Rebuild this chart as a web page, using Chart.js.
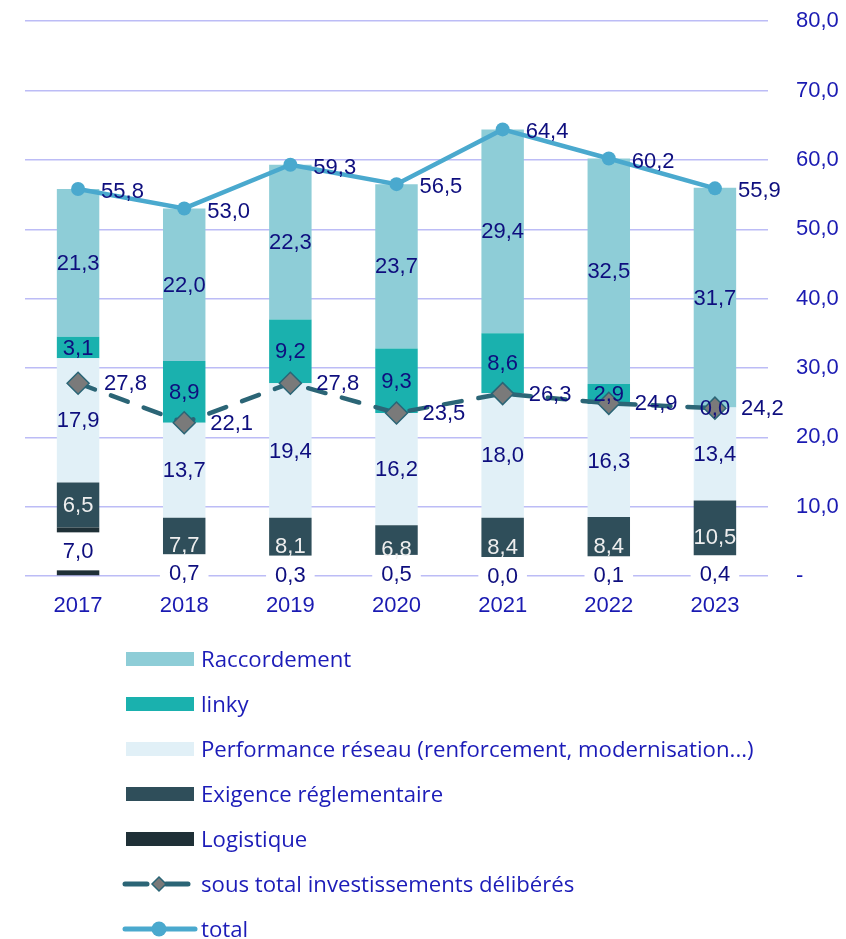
<!DOCTYPE html>
<html><head><meta charset="utf-8">
<script src="https://cdn.jsdelivr.net/npm/chart.js@4.4.1/dist/chart.umd.min.js"></script>
<style>
html,body{margin:0;padding:0;background:#fff;width:846px;height:939px;overflow:hidden;position:relative;}
#wrap{position:absolute;left:0;top:-20px;width:846px;height:660px;}
#legend{position:absolute;left:0;top:0;width:846px;height:939px;pointer-events:none;font-family:"Open Sans",sans-serif;font-size:22.2px;color:#1c1cb8;}
.item{position:absolute;left:0;height:30px;line-height:30px;white-space:nowrap;}
.item svg{position:absolute;left:118px;top:0;}
.item span{position:absolute;left:201px;top:0px;}
</style></head><body>
<div id="wrap"><canvas id="c" width="846" height="660"></canvas></div>
<div id="legend"></div>
<script>
const years = ['2017','2018','2019','2020','2021','2022','2023'];
const raccordement = [21.3, 22.0, 22.3, 23.7, 29.4, 32.5, 31.7];
const linky        = [3.1, 8.9, 9.2, 9.3, 8.6, 2.9, 0.0];
const performance  = [17.9, 13.7, 19.4, 16.2, 18.0, 16.3, 13.4];
const exigence     = [6.5, 7.7, 8.1, 6.8, 8.4, 8.4, 10.5];
const logistique   = [7.0, 0.7, 0.3, 0.5, 0.0, 0.1, 0.4];
const sousTotal    = [27.8, 22.1, 27.8, 23.5, 26.3, 24.9, 24.2];
const total        = [55.8, 53.0, 59.3, 56.5, 64.4, 60.2, 55.9];
const seriesNames = ['Raccordement','linky','Performance réseau (renforcement, modernisation...)','Exigence réglementaire','Logistique','sous total investissements délibérés','total'];

const TICK = '#1a1ab2';
const LBL = '#0e0e7e';
const FONT = '"Liberation Sans", Arial, sans-serif';
const FS = 22;
const fmt = v => v.toFixed(1).replace('.', ',');

const C = {
  racc:'#8ecdd7', linky:'#1ab1ae', perf:'#e1f0f7', exig:'#2f4e5a', logi:'#1f3037',
  sous:'#2b6576', diamond:'#7a7a7a', total:'#4aa9ce'
};

// label settings per dataset index
const lblCfg = [
  {type:'line', dx:23, dy:3},
  {type:'line', dx:26, dy:1},
  {type:'bar', color:LBL, bg:true},
  {type:'bar', color:'#eeeeee'},
  {type:'bar', color:LBL},
  {type:'bar', color:LBL},
  {type:'bar', color:LBL}
];

const labelPlugin = {
  id:'vlabels',
  afterDatasetsDraw(chart){
    const ctx = chart.ctx;
    ctx.save();
    ctx.font = FS + 'px ' + FONT;
    ctx.textBaseline = 'middle';
    chart.data.datasets.forEach((ds,i)=>{
      const meta = chart.getDatasetMeta(i);
      const cfg = lblCfg[i];
      meta.data.forEach((el,j)=>{
        const txt = fmt(ds.data[j]);
        if(cfg.type==='line'){
          ctx.textAlign='left';
          ctx.fillStyle=LBL;
          ctx.fillText(txt, el.x+cfg.dx, el.y+cfg.dy);
        } else {
          const y = (el.y + el.base)/2;
          ctx.textAlign='center';
          if(cfg.bg){
            const w = ctx.measureText(txt).width + 18;
            ctx.fillStyle='#ffffff';
            ctx.fillRect(el.x - w/2, y - 19, w, 38);
          }
          ctx.fillStyle=cfg.color;
          ctx.fillText(txt, el.x, y+1);
        }
      });
    });
    ctx.restore();
  }
};

const chart = new Chart(document.getElementById('c'), {
  data:{
    labels: years,
    datasets:[
      {type:'line', label:seriesNames[6], data:total, stack:'t', order:0,
       borderColor:C.total, backgroundColor:C.total, borderWidth:4.5,
       pointRadius:7, pointHoverRadius:7, pointBackgroundColor:C.total, pointBorderColor:C.total, pointBorderWidth:0, tension:0},
      {type:'line', label:seriesNames[5], data:sousTotal, stack:'s', order:1,
       borderColor:C.sous, backgroundColor:C.diamond, borderWidth:4.5, borderDash:[18,17], borderCapStyle:'round',
       pointStyle:'rectRot', pointRadius:11, pointHoverRadius:11, pointBackgroundColor:C.diamond, pointBorderColor:C.sous, pointBorderWidth:1.5, tension:0},
      {type:'bar', label:seriesNames[4], data:logistique, stack:'b', order:2, backgroundColor:C.logi},
      {type:'bar', label:seriesNames[3], data:exigence, stack:'b', order:2, backgroundColor:C.exig},
      {type:'bar', label:seriesNames[2], data:performance, stack:'b', order:2, backgroundColor:C.perf},
      {type:'bar', label:seriesNames[1], data:linky, stack:'b', order:2, backgroundColor:C.linky},
      {type:'bar', label:seriesNames[0], data:raccordement, stack:'b', order:2, backgroundColor:C.racc}
    ]
  },
  options:{
    responsive:false, animation:false, devicePixelRatio:1,
    layout:{padding:{left:25, top:0, right:0, bottom:0}},
    datasets:{bar:{categoryPercentage:1, barPercentage:0.4}},
    plugins:{legend:{display:false}, tooltip:{enabled:false}},
    scales:{
      x:{stacked:true, grid:{display:false, drawTicks:false}, border:{display:false},
         ticks:{color:TICK, font:{family:FONT, size:FS}, padding:17},
         afterFit(s){ s.height = 64; }},
      y:{position:'right', stacked:true, min:0, max:80,
         grid:{color:'#bcbcf6', lineWidth:1.5, drawTicks:false}, border:{display:false},
         ticks:{stepSize:10, padding:28, color:TICK, font:{family:FONT, size:FS},
                callback:v => v===0 ? '-' : fmt(v)},
         afterFit(s){ s.width = 78; }}
    }
  },
  plugins:[labelPlugin]
});

// HTML legend built from chart datasets
const leg = document.getElementById('legend');
const order = [6,5,4,3,2,1,0];
order.forEach((di,k)=>{
  const ds = chart.data.datasets[di];
  const cy = 659 + 45*k;
  const div = document.createElement('div');
  div.className='item';
  div.style.top = (cy-15)+'px';
  let svg;
  if(ds.type==='bar'){
    svg = `<svg width="80" height="30"><rect x="8" y="8" width="68" height="14" fill="${ds.backgroundColor}"/></svg>`;
  } else if(ds.pointStyle==='rectRot'){
    svg = `<svg width="80" height="30"><line x1="7" y1="15" x2="29" y2="15" stroke="${ds.borderColor}" stroke-width="5" stroke-linecap="round"/><line x1="48" y1="15" x2="70" y2="15" stroke="${ds.borderColor}" stroke-width="5" stroke-linecap="round"/><polygon points="41,8 48,15 41,22 34,15" fill="${ds.backgroundColor}" stroke="${ds.borderColor}" stroke-width="1.5"/></svg>`;
  } else {
    svg = `<svg width="80" height="30"><line x1="7" y1="15" x2="77" y2="15" stroke="${ds.borderColor}" stroke-width="5" stroke-linecap="round"/><circle cx="41" cy="15" r="7.5" fill="${ds.borderColor}"/></svg>`;
  }
  div.innerHTML = svg + `<span>${ds.label}</span>`;
  leg.appendChild(div);
});
</script>
</body></html>
